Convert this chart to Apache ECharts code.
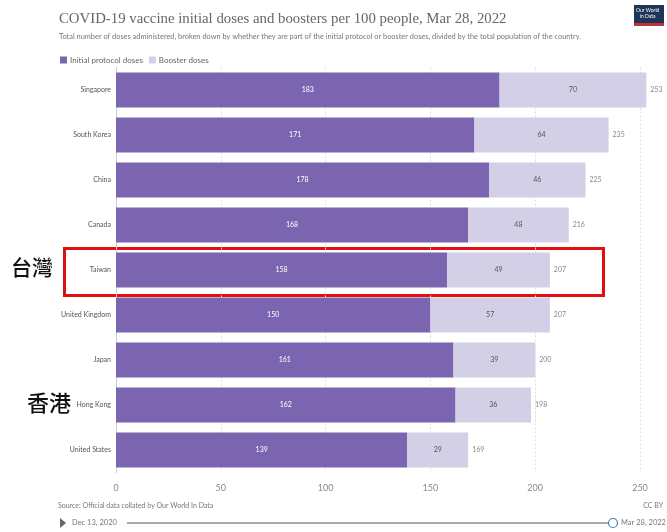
<!DOCTYPE html>
<html>
<head>
<meta charset="utf-8">
<script src="https://cdn.jsdelivr.net/npm/echarts@6/dist/echarts.min.js"></script>
<style>html,body{margin:0;padding:0;background:#fff}#c{width:667px;height:532px}</style>
</head>
<body>
<div id="c"></div>
<script>
var countries = ['Singapore','South Korea','China','Canada','Taiwan','United Kingdom','Japan','Hong Kong','United States'];
var initialDoses = [183,171,178,168,158,150,161,162,139];
var boosterDoses = [70,64,46,48,49,57,39,36,29];
var totals = [253,235,225,216,207,207,200,198,169];
var xTicks = [0,50,100,150,200,250];

var chart = echarts.init(document.getElementById('c'));
var labelFont = 'Lato, "Noto Sans", sans-serif';
chart.setOption({
  animation:false,
  backgroundColor:'#fff',
  title:[{
    text:'COVID-19 vaccine initial doses and boosters per 100 people, Mar 28, 2022',
    left:54, top:7,
    textStyle:{fontFamily:'"Liberation Serif", "DejaVu Serif", serif', fontWeight:'normal', fontSize:14.8, color:'#666'}
  },{
    text:'Total number of doses administered, broken down by whether they are part of the initial protocol or booster doses, divided by the total population of the country.',
    left:54, top:28,
    textStyle:{fontFamily:labelFont, fontWeight:'normal', fontSize:7.4, color:'#777'}
  }],
  legend:{
    left:55, top:51, itemWidth:7, itemHeight:7, itemGap:6, icon:'rect',
    textStyle:{fontFamily:labelFont, fontSize:8, color:'#666', padding:[0,0,0,-2]},
    data:['Initial protocol doses','Booster doses']
  },
  grid:{left:116, right:27, top:67.5, bottom:59.5, containLabel:false},
  xAxis:{
    type:'value', min:0, max:250, interval:50,
    axisLine:{show:false}, axisTick:{show:false},
    axisLabel:{color:'#888', fontFamily:labelFont, fontSize:9, margin:11,
      formatter:function(v){return xTicks.indexOf(v)>=0? String(v):'';}},
    splitLine:{lineStyle:{color:'#ddd', type:[2,2], width:1}}
  },
  yAxis:{
    type:'category', inverse:true, data:countries,
    axisLine:{show:true, lineStyle:{color:'#ccc'}}, axisTick:{show:false},
    axisLabel:{color:'#555', fontFamily:labelFont, fontSize:7, margin:5}
  },
  series:[{
    name:'Initial protocol doses', type:'bar', stack:'t', barCategoryGap:'22%',
    data:initialDoses, clip:false,
    itemStyle:{color:'#7b65b0'},
    label:{show:true, position:'inside', color:'#fff', fontFamily:labelFont, fontSize:7}
  },{
    name:'Booster doses', type:'bar', stack:'t', barCategoryGap:'22%',
    data:boosterDoses, clip:false,
    itemStyle:{color:'#d2cfe6'},
    label:{show:true, position:'inside', color:'#555', fontFamily:labelFont, fontSize:7}
  },{
    name:'Total', type:'bar', stack:'t', barCategoryGap:'22%', clip:false,
    data:totals.map(function(){return 0;}),
    itemStyle:{color:'transparent'}, silent:true,
    label:{show:true, position:'right', distance:4, color:'#888', fontFamily:labelFont, fontSize:7,
      formatter:function(p){return totals[p.dataIndex];}}
  }],
  graphic:[
    {type:'rect', left:62, top:246, shape:{width:539, height:47}, style:{fill:'none', stroke:'#e01010', lineWidth:3}},
    {type:'text', left:11, top:257, style:{text:'台灣', font:'500 21px "Noto Sans CJK TC", sans-serif', fill:'#111'}},
    {type:'text', left:27, top:392, style:{text:'香港', font:'500 22px "Noto Sans CJK TC", sans-serif', fill:'#111'}},
    {type:'rect', left:634, top:5, shape:{width:30, height:20}, style:{fill:'#1d3557'}},
    {type:'rect', left:634, top:23, shape:{width:30, height:3}, style:{fill:'#c0303a'}},
    {type:'text', left:636, top:7, style:{text:'Our World\n   in Data', font:'5px Lato, sans-serif', fill:'#fff', lineHeight:6}},
    {type:'text', left:58, top:502, style:{text:'Source: Official data collated by Our World In Data', font:'7px Lato, sans-serif', fill:'#777'}},
    {type:'text', right:4, top:502, style:{text:'CC BY', font:'7px Lato, sans-serif', fill:'#777'}},
    {type:'polygon', shape:{points:[[60,518],[60,528],[66,523]]}, style:{fill:'#666'}},
    {type:'text', left:72, top:519, style:{text:'Dec 13, 2020', font:'7.5px Lato, sans-serif', fill:'#777'}},
    {type:'line', shape:{x1:127, y1:523, x2:609, y2:523}, style:{stroke:'#aaa', lineWidth:2}},
    {type:'circle', shape:{cx:613, cy:523, r:4.5}, style:{fill:'#fff', stroke:'#4a7bb7', lineWidth:1.2}},
    {type:'text', left:621, top:519, style:{text:'Mar 28, 2022', font:'7.5px Lato, sans-serif', fill:'#777'}}
  ]
});
</script>
</body>
</html>
